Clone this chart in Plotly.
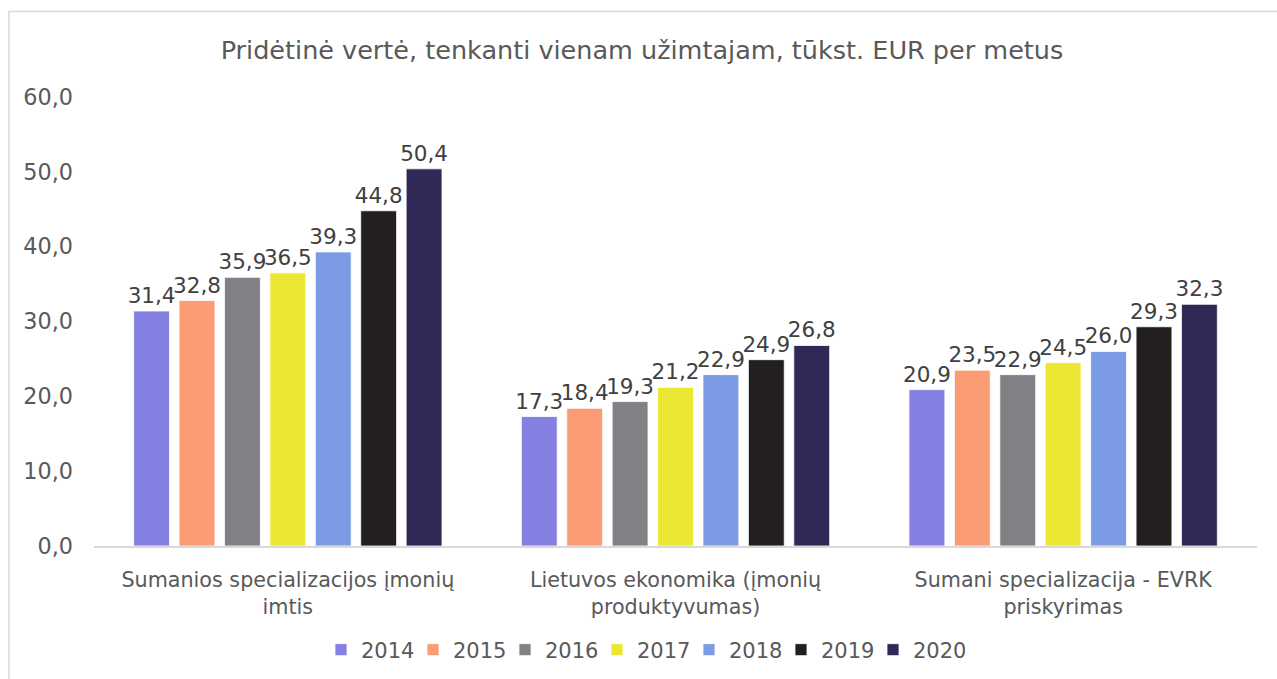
import plotly.graph_objects as go

# Categories (x axis groups)
categories = [
    "Sumanios specializacijos įmonių<br>imtis",
    "Lietuvos ekonomika (įmonių<br>produktyvumas)",
    "Sumani specializacija - EVRK<br>priskyrimas",
]

years = ["2014", "2015", "2016", "2017", "2018", "2019", "2020"]

# Value added per employed person, thousand EUR per year
v2014 = [31.4, 17.3, 20.9]
v2015 = [32.8, 18.4, 23.5]
v2016 = [35.9, 19.3, 22.9]
v2017 = [36.5, 21.2, 24.5]
v2018 = [39.3, 22.9, 26.0]
v2019 = [44.8, 24.9, 29.3]
v2020 = [50.4, 26.8, 32.3]
series = [v2014, v2015, v2016, v2017, v2018, v2019, v2020]

colors = ["#8380E2", "#FB9C74", "#808184", "#ECE733", "#7B9CE5", "#231F20", "#302856"]

FONT = "DejaVu Sans"

fig = go.Figure()
for name, vals, col in zip(years, series, colors):
    fig.add_trace(go.Bar(
        name=name,
        x=categories,
        y=vals,
        marker=dict(color=col, line=dict(color="rgba(255,255,255,0.8)", width=1)),
        texttemplate="%{y:.1f}",
        textposition="outside",
        textangle=0,
        constraintext="none",
        cliponaxis=False,
        textfont=dict(family=FONT, size=21.5, color="#404040"),
        hoverinfo="skip",
    ))

W, H = 1277, 679
L, R, T, B = 93.5, 1257, 97, 546
pw, ph = R - L, B - T

fig.update_layout(
    width=W, height=H,
    margin=dict(l=L, r=W - R, t=T, b=H - B, pad=0, autoexpand=False),
    paper_bgcolor="white",
    plot_bgcolor="white",
    separators=",.",
    barmode="group",
    bargap=0.18,
    bargroupgap=0.21,
    font=dict(family=FONT, color="#595959"),
    title=dict(
        text="Pridėtinė vertė, tenkanti vienam užimtajam, tūkst. EUR per metus",
        font=dict(family=FONT, size=25.5, color="#595959"),
        x=642 / W, xref="container", xanchor="center",
        y=1 - 50 / H, yref="container", yanchor="middle",
    ),
    xaxis=dict(
        showgrid=False,
        showline=True, linecolor="#D9D9D9", linewidth=1.5,
        ticks="", tickfont=dict(family=FONT, size=20.7, color="#595959"),
        ticklabelstandoff=14,
    ),
    yaxis=dict(
        range=[0, 60], dtick=10, tickformat=".1f",
        showgrid=False, zeroline=False, showline=False,
        ticks="", tickfont=dict(family=FONT, size=22.3, color="#595959"),
        ticklabelstandoff=20,
    ),
    legend=dict(
        orientation="h",
        x=643 / W, xref="container", xanchor="center",
        y=1 - 650 / H, yref="container", yanchor="middle",
        font=dict(family=FONT, size=21, color="#595959"),
        itemwidth=30,
        entrywidth=47,
        traceorder="normal",
    ),
    shapes=[dict(
        type="rect", xref="paper", yref="paper",
        x0=(8.5 - L) / pw, x1=(1300 - L) / pw,
        y0=(B - 720) / ph, y1=(B - 11.5) / ph,
        line=dict(color="#D9D9D9", width=1.5),
        fillcolor="rgba(0,0,0,0)", layer="below",
    )],
)

fig.write_html("out.html")
